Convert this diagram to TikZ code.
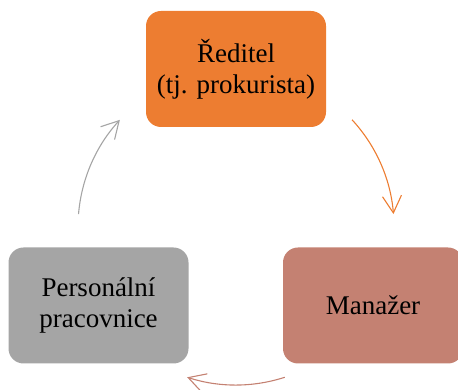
\documentclass[tikz,border=0pt]{standalone}
\usepackage{fontspec}
\setmainfont{Liberation Serif}
\usetikzlibrary{arrows.meta}
\definecolor{orangeA}{HTML}{ED7D31}
\definecolor{rustA}{RGB}{196,129,114}
\definecolor{greyA}{HTML}{A5A5A5}

\begin{document}
\begin{tikzpicture}[x=1pt,y=1pt,
  box/.style={rounded corners=15pt, minimum width=180pt, minimum height=116pt, inner sep=0pt, align=center, font=\rmfamily\fontsize{27}{31}\selectfont},
  cyc/.style={line width=1.1pt, -{Straight Barb[length=17pt,width=19pt,line width=1.1pt]}}]
\clip (0,0) rectangle (458,390);

\coordinate (c) at (236,163);
\node[box, fill=orangeA] (reditel) at (236,321) {Ředitel\\(tj. prokurista)};
\node[box, fill=rustA] (manazer) at (373,84.5) {Manažer};
\node[box, fill=greyA] (personal) at (98.5,84.5) {Personální\\pracovnice};

% arcs of the cycle
\coordinate (o1) at ([shift={(42.7:158)}]c);
\coordinate (r1) at ([shift={(-72:158)}]c);
\coordinate (g1) at ([shift={(175.3:158)}]c);
\draw[cyc, orangeA] (o1) arc[start angle=42.7, end angle=4.7, radius=158];
\draw[cyc, rustA] (r1) arc[start angle=-72, end angle=-108, radius=158];
\draw[cyc, greyA] (g1) arc[start angle=175.3, end angle=137.3, radius=158];

\end{tikzpicture}
\end{document}
